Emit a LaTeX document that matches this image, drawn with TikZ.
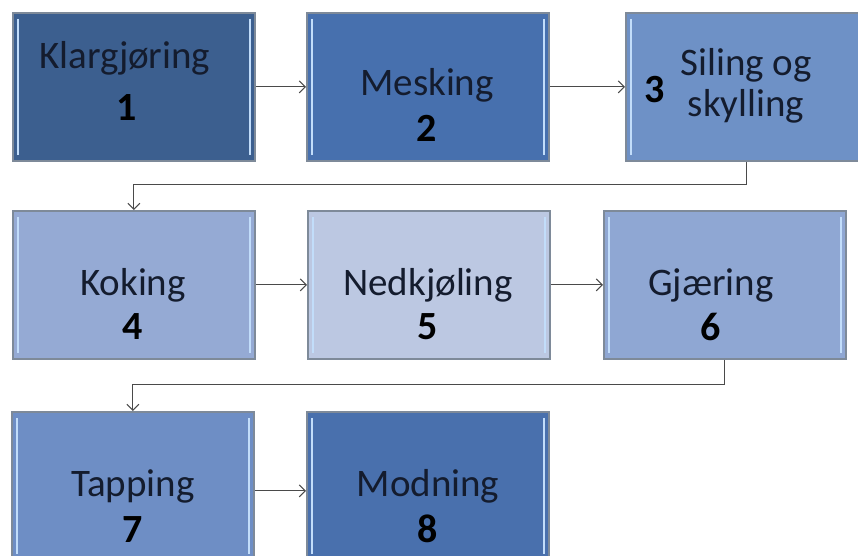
\documentclass[tikz,border=0pt]{standalone}
\usepackage{fontspec}
\setmainfont{Carlito}
\usetikzlibrary{arrows.meta}

% stage fills, from dark to light
\definecolor{fillA}{HTML}{3C5F8F}
\definecolor{fillB}{HTML}{4770AE}
\definecolor{fillC}{HTML}{6E91C6}
\definecolor{fillD}{HTML}{95AAD4}
\definecolor{fillE}{HTML}{BCC8E2}
\definecolor{fillF}{HTML}{8FA7D3}
\definecolor{fillG}{HTML}{6E8EC5}
\definecolor{fillH}{HTML}{4970AD}
\definecolor{framegray}{HTML}{7E8A99}
\definecolor{glint}{HTML}{C2DDFA}
\definecolor{inkblue}{HTML}{141C2E}
\definecolor{wire}{HTML}{4A4A4A}

\begin{document}
\begin{tikzpicture}[x=1pt,y=-1pt,
  stage/.style={rectangle, draw=framegray, line width=1.8pt, anchor=north west,
    minimum width=242pt, minimum height=148pt, inner sep=0pt,
    path picture={
      \draw[glint, line width=2pt]
        ([xshift=5pt,yshift=-6pt]path picture bounding box.north west) --
        ([xshift=5pt,yshift=6pt]path picture bounding box.south west);
      \draw[glint, line width=2pt]
        ([xshift=-5pt,yshift=-6pt]path picture bounding box.north east) --
        ([xshift=-5pt,yshift=6pt]path picture bounding box.south east);
    }},
  word/.style={text=inkblue, font=\fontsize{39}{41}\selectfont, inner sep=0pt, align=center},
  num/.style={text=black, font=\fontsize{40}{42}\selectfont\bfseries, inner sep=0pt},
  conn/.style={draw=wire, line width=1.1pt, -{Straight Barb[length=6pt,width=12pt]}}
]
\useasboundingbox (0,0) rectangle (858,555);
\clip (0,0) rectangle (858,555);

% stage boxes
\node[stage, fill=fillA] (b1) at (12,12)  {};
\node[stage, fill=fillB] (b2) at (306,12) {};
\node[stage, fill=fillC] (b3) at (625,12) {};
\node[stage, fill=fillD] (b4) at (12,210) {};
\node[stage, fill=fillE] (b5) at (307,210) {};
\node[stage, fill=fillF] (b6) at (603,210) {};
\node[stage, fill=fillG] (b7) at (11,411) {};
\node[stage, fill=fillH] (b8) at (306,411) {};

% labels
\node[word] (w1) at (125,58)  {Klargjøring};
\node[num]  (n1) at (127,108) {1};
\node[word] (w2) at (427,85)  {Mesking};
\node[num]  (n2) at (427,128) {2};
\node[num]  (n3) at (655,90)  {3};
\node[word] (w3) at (746,86)  {Siling og\\skylling};
\node[word] (w4) at (133,285) {Koking};
\node[num]  (n4) at (133,327) {4};
\node[word] (w5) at (428,285) {Nedkjøling};
\node[num]  (n5) at (428,327) {5};
\node[word] (w6) at (711,285) {Gjæring};
\node[num]  (n6) at (711,327) {6};
\node[word] (w7) at (133,486) {Tapping};
\node[num]  (n7) at (133,530) {7};
\node[word] (w8) at (428,486) {Modning};
\node[num]  (n8) at (428,529) {8};

% connectors
\draw[conn] (b1.east) -- (b2.west);
\draw[conn] (b2.east) -- (b3.west);
\draw[conn] (b3.south) -- ++(0,23) -| (b4.north);
\draw[conn] (b4.east) -- (b5.west);
\draw[conn] (b5.east) -- (b6.west);
\draw[conn] (b6.south) -- ++(0,25) -| (b7.north);
\draw[conn] ([yshift=-5pt]b7.east) -- ([yshift=-5pt]b8.west);
\end{tikzpicture}
\end{document}
